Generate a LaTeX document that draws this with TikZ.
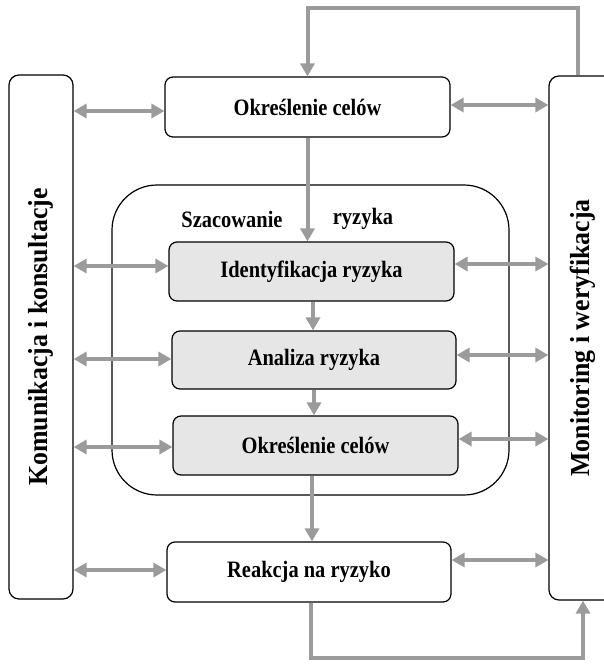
\documentclass[tikz,border=0pt]{standalone}
\usepackage{fontspec}
\setmainfont{Liberation Serif}
\newfontfamily\labelfont[FakeStretch=0.87]{Liberation Serif}
\newfontfamily\sidefont[FakeStretch=0.94]{Liberation Serif}
\usetikzlibrary{arrows.meta}
\definecolor{flowgray}{RGB}{155,155,155}
\definecolor{stagefill}{RGB}{230,230,230}
\begin{document}
\begin{tikzpicture}[x=1pt,y=-1pt,
  box/.style={draw=black, line width=1.2pt, rounded corners=8pt, fill=white,
    inner sep=0pt, font=\labelfont\fontsize{23.5}{26}\selectfont\bfseries},
  stagebox/.style={box, fill=stagefill},
  caption/.style={inner sep=0pt, font=\labelfont\fontsize{23.5}{26}\selectfont\bfseries},
  sidebox/.style={draw=black, line width=1.2pt, rounded corners=10pt, fill=white, inner sep=0pt},
  sidetext/.style={inner sep=0pt, rotate=90, font=\sidefont\fontsize{27.5}{30}\selectfont\bfseries},
  tip/.tip={Triangle[width=14pt,length=13pt]},
  flow/.style={draw=flowgray, line width=4pt, -tip},
  link/.style={draw=flowgray, line width=4pt, tip-tip}]
\useasboundingbox (0,0) rectangle (604,664);
\clip (0,0) rectangle (604,664);

% side columns
\node[sidebox, minimum width=64pt, minimum height=524pt] (kom) at (41,337) {};
\node[sidetext] at (kom.center) {Komunikacja i konsultacje};
\node[sidebox, minimum width=68pt, minimum height=524pt] (mon) at (583,338) {};
\node[sidetext] at (mon.center) {Monitoring i weryfikacja};

% risk assessment frame
\node[draw=black, line width=1.2pt, rounded corners=45pt, minimum width=397pt,
      minimum height=310pt] (stage) at (310.5,340) {};
\node[caption] (szac) at (232,219) {Szacowanie};
\node[caption] (ryz) at (363,219) {ryzyka};

% process steps
\node[box, minimum width=285pt, minimum height=60pt] (top) at (307.5,107) {Określenie celów};
\node[stagebox, minimum width=285pt, minimum height=59pt] (id) at (311.5,271.5) {Identyfikacja ryzyka};
\node[stagebox, minimum width=284pt, minimum height=58pt] (an) at (314,360) {Analiza ryzyka};
\node[stagebox, minimum width=285pt, minimum height=59pt] (ok) at (315.5,445.5) {Określenie celów};
\node[box, minimum width=284pt, minimum height=60pt] (re) at (309,572) {Reakcja na ryzyko};

% main flow
\draw[flow] (top.south) -- (top.south |- id.north);
\draw[flow] ([xshift=1.5pt]id.south) -- ([xshift=1.5pt]id.south |- an.north);
\draw[flow] (an.south) -- (an.south |- ok.north);
\draw[flow] ([xshift=-3.5pt]ok.south) -- ([xshift=-3.5pt]ok.south |- re.north);

% feedback loops
\draw[flow] ([xshift=-5pt]mon.north) -- ++(0,-67) -| (top.north);
\draw[flow] ([xshift=2pt]re.south) -- ++(0,55) -| (mon.south);

% communication links
\draw[link] ([yshift=-4pt]top.west) -- ([yshift=-4pt]top.west -| kom.east);
\draw[link] ([yshift=5.5pt]id.west) -- ([yshift=5.5pt]id.west -| kom.east);
\draw[link] ([yshift=1pt]an.west) -- ([yshift=1pt]an.west -| kom.east);
\draw[link] ([yshift=-1.5pt]ok.west) -- ([yshift=-1.5pt]ok.west -| kom.east);
\draw[link] ([yshift=2pt]re.west) -- ([yshift=2pt]re.west -| kom.east);

% monitoring links
\draw[link] ([yshift=2pt]top.east) -- ([yshift=2pt]top.east -| mon.west);
\draw[link] ([yshift=7.5pt]id.east) -- ([yshift=7.5pt]id.east -| mon.west);
\draw[link] ([yshift=5pt]an.east) -- ([yshift=5pt]an.east -| mon.west);
\draw[link] ([yshift=6.5pt]ok.east) -- ([yshift=6.5pt]ok.east -| mon.west);
\draw[link] ([yshift=12pt]re.east) -- ([yshift=12pt]re.east -| mon.west);
\end{tikzpicture}
\end{document}
